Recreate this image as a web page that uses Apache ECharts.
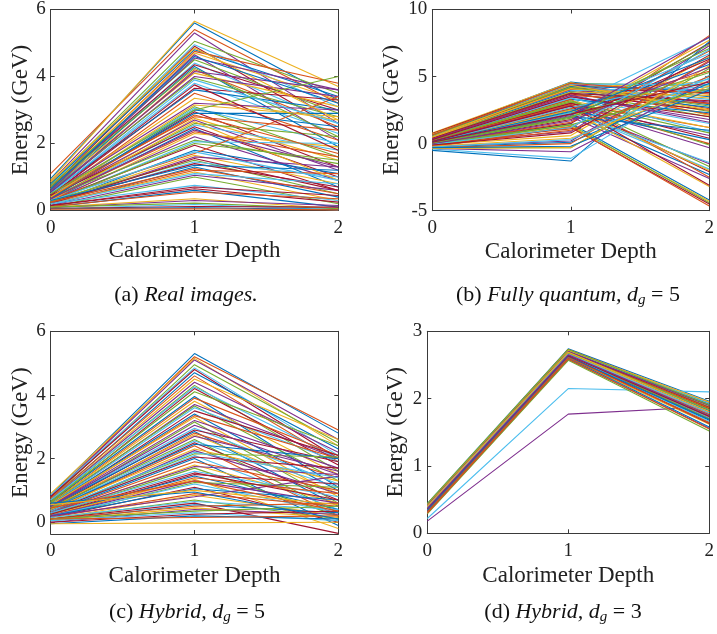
<!DOCTYPE html>
<html>
<head>
<meta charset="utf-8">
<script src="https://cdn.jsdelivr.net/npm/echarts@6/dist/echarts.min.js"></script>
<style>
html,body{margin:0;padding:0;background:#fff;}
#chart{width:717px;height:634px;}
</style>
</head>
<body>
<div id="chart"></div>
<script>
// ---------------- data (each row: energy at depth 0, 1, 2) ----------------
const depthValues = [0, 1, 2];
const depthTickLabels = ['0', '1', '2'];

const realImages = [
  [0.95,5.60,3.30],[1.10,5.40,3.20],[0.90,5.65,3.70],[0.85,5.30,2.60],[0.80,5.05,3.50],
  [0.75,4.95,3.10],[0.70,4.90,2.40],[0.80,4.80,3.40],[0.65,4.75,3.80],[0.70,4.70,3.30],
  [0.60,4.65,2.10],[0.75,4.50,2.90],[0.55,4.40,2.60],[0.70,4.35,3.00],[0.60,4.30,1.90],
  [0.50,4.20,2.50],[0.65,4.10,3.10],[0.55,4.00,3.40],[0.60,3.95,2.80],[0.50,3.80,2.30],
  [0.45,3.65,3.30],[0.55,3.60,3.00],[0.40,3.50,2.10],[0.45,3.35,2.70],[0.50,3.20,3.00],
  [0.40,3.10,1.60],[0.45,3.05,2.00],[0.35,2.95,1.30],[0.40,2.90,2.90],[0.50,2.80,2.40],
  [0.30,2.75,1.50],[0.40,2.70,1.20],[0.35,2.60,2.20],[0.30,2.55,1.80],[0.45,2.50,1.00],
  [0.30,2.45,0.70],[0.35,2.35,1.60],[0.25,2.30,1.90],[0.30,2.20,0.90],[0.40,2.10,1.40],
  [0.25,2.05,2.00],[0.30,1.95,0.60],[0.20,1.80,1.10],[0.35,1.70,3.40],[0.25,1.65,0.80],
  [0.20,1.60,1.30],[0.30,1.50,0.50],[0.20,1.45,1.00],[0.25,1.40,0.70],[0.15,1.30,0.40],
  [0.20,1.20,1.10],[0.20,1.15,0.30],[0.15,1.05,0.60],[0.10,1.00,0.20],[0.20,0.75,0.30],
  [0.15,0.65,0.25],[0.10,0.60,0.10],[0.12,0.55,0.35],[0.10,0.35,0.05],[0.08,0.30,0.15],
  [0.10,0.22,0.05],[0.05,0.18,0.02],[0.06,0.12,0.10],[0.05,0.08,0.03],[0.04,0.05,0.02],
  [0.85,4.85,2.70],[0.60,4.55,3.60],[0.70,4.25,2.20],[0.50,3.90,2.60],[0.45,3.75,1.80],
  [0.35,3.00,2.50],[0.40,2.85,1.70],[0.30,2.65,0.90],[0.35,2.40,1.30],[0.25,2.00,1.50],
  [0.30,1.75,0.90],[0.20,1.55,0.60],[0.30,1.35,1.20],[0.25,1.25,0.50],[0.40,3.15,2.80],
  [0.55,4.15,3.60],[0.50,3.00,4.00],[0.20,1.10,0.80],[0.15,0.70,0.45],[0.65,4.60,3.20]
];

const fullyQuantum = [
  [0.70,4.60,3.50],[0.10,1.10,8.05],[0.80,4.55,2.10],[0.15,2.60,-1.50],[0.60,4.50,4.30],
  [0.20,2.90,7.90],[0.75,4.45,3.00],[-0.10,1.50,-4.20],[0.70,4.40,2.60],[0.15,2.00,7.70],
  [0.65,4.35,4.00],[0.20,3.10,-1.70],[0.60,4.30,3.30],[0.05,1.50,7.50],[0.55,4.25,2.90],
  [0.25,3.00,1.20],[0.70,4.20,4.60],[0.00,0.90,7.30],[0.50,4.15,2.40],[0.10,2.40,-1.90],
  [0.60,4.10,3.80],[-0.50,-1.30,7.60],[0.55,4.05,2.20],[-0.15,1.30,-4.30],[0.50,4.00,3.10],
  [0.10,2.30,7.10],[0.45,3.95,4.20],[0.15,2.90,-2.10],[0.50,3.90,2.70],[0.00,1.60,6.90],
  [0.40,3.85,3.60],[0.20,2.80,0.60],[0.45,3.80,2.00],[-0.05,2.50,6.70],[0.35,3.70,2.50],
  [0.05,2.20,-2.30],[0.40,3.60,3.00],[-0.10,0.60,6.50],[0.30,3.50,1.80],[-0.10,1.40,-4.40],
  [0.35,3.40,1.50],[0.00,1.80,6.30],[0.30,3.30,2.30],[0.20,3.30,-2.50],[0.25,3.20,1.20],
  [-0.20,0.20,6.10],[0.30,3.10,0.80],[0.30,3.40,0.90],[0.20,3.00,0.40],[-0.10,2.20,5.90],
  [0.25,2.90,0.00],[0.10,2.70,-2.00],[0.20,2.80,-0.30],[-0.30,-0.30,5.60],[0.55,4.45,4.40],
  [-0.20,1.20,-4.50],[0.65,4.30,3.90],[0.05,2.60,5.40],[0.45,4.10,3.40],[0.00,2.00,-2.60],
  [0.60,4.20,2.80],[-0.40,-1.10,5.10],[0.40,3.75,3.20],[0.10,2.50,0.30],[-0.15,1.00,5.00],
  [0.10,2.50,-3.20],[-0.35,-0.60,4.70],[0.25,3.20,-0.10],[0.10,2.70,4.80],[0.15,2.80,-3.10],
  [-0.25,0.10,4.50],[-0.25,1.25,-4.65],[-0.20,0.40,4.30],[0.35,3.60,1.60],[0.00,1.40,4.10],
  [0.05,2.30,-1.40],[0.30,3.50,2.00],[0.00,2.00,1.00],[0.65,4.50,3.70],[0.50,4.35,2.50],
  [0.05,2.10,7.95],[0.00,1.90,7.40],[-0.05,1.20,7.00],[-0.10,0.80,6.60],[0.10,2.40,6.40],
  [-0.30,0.00,6.20],[-0.35,-0.30,5.80],[0.00,1.70,5.70],[0.05,2.00,5.30],[-0.25,0.30,4.90],
  [0.10,2.20,4.60],[-0.30,-0.20,4.00]
];

const hybridDg5 = [
  [0.85,5.30,2.80],[0.80,5.20,2.90],[0.90,5.15,2.40],[0.80,5.10,2.60],[0.75,4.95,2.50],
  [0.85,4.85,2.10],[0.80,4.80,2.00],[0.70,4.70,2.30],[0.75,4.60,1.90],[0.70,4.50,2.60],
  [0.70,4.40,2.20],[0.65,4.30,1.60],[0.70,4.25,2.00],[0.60,4.20,1.80],[0.65,3.95,1.10],
  [0.60,3.90,2.10],[0.60,3.80,1.50],[0.55,3.70,2.00],[0.60,3.65,1.30],[0.55,3.60,1.90],
  [0.50,3.50,2.10],[0.55,3.40,1.00],[0.50,3.35,2.00],[0.55,3.30,0.80],[0.50,3.20,1.70],
  [0.45,3.15,0.60],[0.50,2.95,1.20],[0.45,2.90,1.90],[0.50,2.85,0.50],[0.40,2.80,1.40],
  [0.45,2.75,0.90],[0.40,2.70,1.60],[0.45,2.60,0.30],[0.40,2.55,1.10],[0.35,2.50,0.70],
  [0.40,2.45,2.00],[0.35,2.40,0.20],[0.40,2.30,1.30],[0.30,2.25,0.90],[0.35,2.15,2.05],
  [0.30,2.10,0.40],[0.35,2.05,1.70],[0.30,2.00,-0.10],[0.30,1.90,1.00],[0.25,1.80,0.60],
  [0.30,1.75,1.50],[0.25,1.70,0.20],[0.30,1.60,0.80],[0.20,1.50,1.20],[0.25,1.45,0.40],
  [0.20,1.40,0.90],[0.25,1.35,-0.20],[0.20,1.30,0.60],[0.15,1.25,1.10],[0.20,1.20,0.30],
  [0.15,1.10,0.00],[0.20,1.05,0.70],[0.15,0.90,0.50],[0.10,0.85,0.20],[0.20,0.80,1.45],
  [0.10,0.70,0.10],[0.15,0.65,0.40],[0.10,0.60,-0.35],[0.05,0.55,0.30],[0.10,0.50,0.60],
  [0.05,0.45,0.15],[0.00,0.40,0.25],[0.10,0.35,0.50],[0.05,0.30,0.05],[0.00,0.25,0.35],
  [-0.05,0.20,0.10],[0.10,0.15,0.20],[-0.05,-0.02,0.00],[0.50,3.05,1.50],[0.65,4.10,2.40],
  [0.35,2.20,1.40],[0.25,1.55,0.70],[0.60,0.95,0.10],[0.45,1.30,0.35],[0.55,1.00,0.55]
];

const hybridDg3 = [
  [0.44,2.74,1.96],[0.43,2.73,1.94],[0.42,2.72,1.90],[0.18,1.77,1.88],[0.41,2.71,1.88],
  [0.22,2.15,2.10],[0.40,2.70,1.85],[0.39,2.69,1.92],[0.38,2.68,1.80],[0.40,2.67,1.83],
  [0.37,2.66,1.78],[0.36,2.65,1.75],[0.38,2.64,1.72],[0.35,2.63,1.70],[0.34,2.62,1.68],
  [0.33,2.61,1.65],[0.32,2.60,1.62],[0.30,2.58,1.56],[0.29,2.57,1.52],[0.42,2.71,1.93],
  [0.41,2.70,1.87],[0.40,2.69,1.82],[0.39,2.68,1.86],[0.37,2.67,1.77],[0.36,2.66,1.73],
  [0.35,2.65,1.70],[0.34,2.64,1.66],[0.33,2.63,1.63],[0.31,2.60,1.58],[0.30,2.59,1.55],
  [0.43,2.72,1.95],[0.41,2.70,1.90],[0.39,2.68,1.84],[0.38,2.66,1.79],[0.36,2.64,1.74],
  [0.34,2.62,1.69],[0.32,2.61,1.64],[0.40,2.69,1.81],[0.37,2.65,1.76],[0.44,2.73,1.91]
];

const yTicksA = [0, 2, 4, 6];
const yTicksB = [-5, 0, 5, 10];
const yTicksC = [0, 2, 4, 6];
const yTicksD = [0, 1, 2, 3];

// ---------------- styling / layout ----------------
const COLORS = ['#0072BD','#D95319','#EDB120','#7E2F8E','#77AC30','#4DBEEE','#A2142F'];
const SERIF = '"Liberation Serif","Times New Roman",serif';
const AXIS_COLOR = '#3a3a3a';

const panels = [
  {data: realImages,  grid:{left:50.7, top:9,     width:287.6, height:201.5}, ymin:0,    ymax:6,  ticks:yTicksA, yGap:18, xGap:29,
   caption:'{n|(a) }{i|Real images.}', cx:186, cy:295},
  {data: fullyQuantum,grid:{left:432.3,top:9,     width:281,   height:201.7}, ymin:-5,   ymax:10, ticks:yTicksB, yGap:29, xGap:30,
   caption:'{n|(b) }{i|Fully quantum, d}{s|g}{n| = 5}', cx:568, cy:295},
  {data: hybridDg5,   grid:{left:50.7, top:331.3, width:287.6, height:202.7}, ymin:-0.37,ymax:6,  ticks:yTicksC, yGap:18, xGap:30,
   caption:'{n|(c) }{i|Hybrid, d}{s|g}{n| = 5}', cx:187, cy:612},
  {data: hybridDg3,   grid:{left:427.3,top:331.3, width:286,   height:202},   ymin:0,    ymax:3,  ticks:yTicksD, yGap:20, xGap:31,
   caption:'{n|(d) }{i|Hybrid, d}{s|g}{n| = 3}', cx:563, cy:612}
];

const grids = [], xAxes = [], yAxes = [], series = [], graphics = [];

panels.forEach((p, g) => {
  grids.push(Object.assign({}, p.grid));
  const baseX = {
    type:'value', gridIndex:g, min:0, max:2, interval:1,
    axisLine:{show:true, onZero:false, lineStyle:{color:AXIS_COLOR, width:1}},
    axisTick:{show:true, inside:true, length:4, lineStyle:{color:AXIS_COLOR}},
    splitLine:{show:false}
  };
  xAxes.push(Object.assign({}, baseX, {
    position:'bottom',
    axisLabel:{show:true, margin:8, color:'#222', fontFamily:SERIF, fontSize:19,
      formatter:(v)=> depthTickLabels[depthValues.indexOf(v)] ?? String(v)},
    name:'Calorimeter Depth', nameLocation:'middle', nameGap:p.xGap,
    nameTextStyle:{fontFamily:SERIF, fontSize:23, color:'#222'}
  }));
  xAxes.push(Object.assign({}, baseX, {position:'top', axisLabel:{show:false}}));

  const baseY = {
    type:'value', gridIndex:g, min:p.ymin, max:p.ymax,
    axisLine:{show:true, onZero:false, lineStyle:{color:AXIS_COLOR, width:1}},
    axisTick:{show:true, inside:true, length:4, customValues:p.ticks, lineStyle:{color:AXIS_COLOR}},
    splitLine:{show:false}
  };
  yAxes.push(Object.assign({}, baseY, {
    position:'left',
    axisLabel:{show:true, margin:5, color:'#222', fontFamily:SERIF, fontSize:19, customValues:p.ticks,
      formatter:(v)=> String(Math.round(v))},
    name:'Energy (GeV)', nameLocation:'middle', nameGap:p.yGap,
    nameTextStyle:{fontFamily:SERIF, fontSize:23, color:'#222'}
  }));
  yAxes.push(Object.assign({}, baseY, {position:'right', axisLabel:{show:false}}));

  p.data.forEach((row, k) => {
    series.push({
      type:'line', xAxisIndex:2*g, yAxisIndex:2*g,
      data: depthValues.map((d, j) => [d, row[j]]),
      symbol:'none', silent:true, animation:false, clip:true,
      lineStyle:{width:1.1, color:COLORS[k % COLORS.length]},
      itemStyle:{color:COLORS[k % COLORS.length]},
      emphasis:{disabled:true}
    });
  });

  graphics.push({
    type:'text', x:p.cx, y:p.cy,
    style:{
      text:p.caption, align:'center', verticalAlign:'middle', textAlign:'center', textVerticalAlign:'middle',
      fill:'#111', font:'22px ' + SERIF,
      rich:{
        n:{fontFamily:SERIF, fontSize:22, lineHeight:26, fill:'#111'},
        i:{fontFamily:SERIF, fontSize:22, lineHeight:26, fontStyle:'italic', fill:'#111'},
        s:{fontFamily:SERIF, fontSize:15, lineHeight:15, fontStyle:'italic', verticalAlign:'bottom', fill:'#111'}
      }
    }
  });
});

const chart = echarts.init(document.getElementById('chart'), null, {renderer:'canvas'});
chart.setOption({
  backgroundColor:'#ffffff',
  animation:false,
  grid:grids, xAxis:xAxes, yAxis:yAxes, series:series, graphic:graphics
});
</script>
</body>
</html>
